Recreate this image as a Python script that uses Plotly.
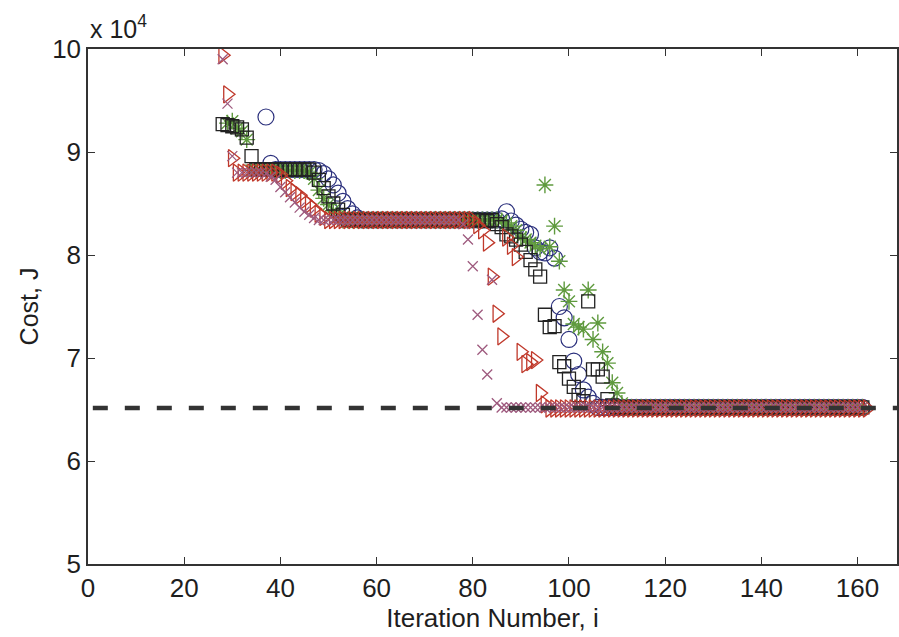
import plotly.graph_objects as go

# ---------------- data (cost J per iteration) ----------------
circle_start = 37
circle_cost = [
    93400, 88900,
    88300, 88300, 88300, 88300, 88300, 88300, 88300, 88300, 88300,
    88200, 87900, 87400, 86800, 86000, 85200, 84500, 84000, 83600,
    83400, 83400, 83400, 83400, 83400, 83400, 83400, 83400, 83400, 83400,
    83400, 83400, 83400, 83400, 83400, 83400, 83400, 83400, 83400, 83400,
    83400, 83400, 83400, 83400, 83400, 83400, 83400, 83400, 83400,
    83500, 84200, 83300, 82900, 82500, 82200, 82000, 80700, 80300, 80200,
    80700, 79700, 75000, 73900, 71800, 69700, 68400, 66900, 66200, 65600,
    65200, 65200, 65200, 65200, 65200, 65200, 65200, 65200, 65200, 65200,
    65200, 65200, 65200, 65200, 65200, 65200, 65200, 65200, 65200, 65200,
    65200, 65200, 65200, 65200, 65200, 65200, 65200, 65200, 65200, 65200,
    65200, 65200, 65200, 65200, 65200, 65200, 65200, 65200, 65200, 65200,
    65200, 65200, 65200, 65200, 65200, 65200, 65200, 65200, 65200, 65200,
    65200, 65200, 65200, 65200, 65200, 65200,
]

asterisk_start = 29
asterisk_cost = [
    92800, 93000, 92300, 92000, 91200,
    88200, 88200, 88200, 88200, 88200, 88200, 88200, 88200, 88200, 88200,
    88200, 88200,
    88000, 87400, 86300, 85500, 84900, 84300, 83800,
    83400, 83400, 83400, 83400, 83400, 83400, 83400, 83400, 83400, 83400,
    83400, 83400, 83400, 83400, 83400, 83400, 83400, 83400, 83400, 83400,
    83400, 83400, 83400, 83400, 83400, 83400, 83400, 83400, 83400, 83400,
    83400, 83400, 83400,
    83300, 83100, 82800, 82400, 81700, 81500, 81200, 80900, 80600, 86800,
    80800, 82800, 79400, 76600, 75500, 73300, 73000, 72800, 76600, 71800,
    73400, 70600, 69500, 67600, 66600, 65600,
    65200, 65200, 65200, 65200, 65200, 65200, 65200, 65200, 65200, 65200,
    65200, 65200, 65200, 65200, 65200, 65200, 65200, 65200, 65200, 65200,
    65200, 65200, 65200, 65200, 65200, 65200, 65200, 65200, 65200, 65200,
    65200, 65200, 65200, 65200, 65200, 65200, 65200, 65200, 65200, 65200,
    65200, 65200, 65200, 65200, 65200, 65200, 65200, 65200, 65200, 65200,
]

square_start = 28
square_cost = [
    92700, 92600, 92500, 92400, 92200, 91400, 89600,
    88300, 88300, 88300, 88300, 88300, 88300, 88300, 88300, 88300, 88300,
    88300, 88300,
    88000, 87300, 86500, 85700, 85000, 84400, 83900,
    83400, 83400, 83400, 83400, 83400, 83400, 83400, 83400, 83400, 83400,
    83400, 83400, 83400, 83400, 83400, 83400, 83400, 83400, 83400, 83400,
    83400, 83400, 83400, 83400, 83400, 83400, 83400, 83400, 83400,
    83300, 83400, 83000, 82700, 82000, 81800, 81500, 81000, 80300, 79500,
    78600, 77900, 74200, 73000, 73100, 69600, 69200, 68000, 67200, 66400,
    65800, 75500, 68900, 68900, 68200, 66000, 65400,
    65200, 65200, 65200, 65200, 65200, 65200, 65200, 65200, 65200, 65200,
    65200, 65200, 65200, 65200, 65200, 65200, 65200, 65200, 65200, 65200,
    65200, 65200, 65200, 65200, 65200, 65200, 65200, 65200, 65200, 65200,
    65200, 65200, 65200, 65200, 65200, 65200, 65200, 65200, 65200, 65200,
    65200, 65200, 65200, 65200, 65200, 65200, 65200, 65200, 65200, 65200,
    65200, 65200,
]

triangle_start = 28
triangle_cost = [
    99400, 95600, 89400,
    88000, 88000, 88000, 88000, 88000, 88000, 88000, 88000, 88000,
    87800, 87200, 86500, 86100, 85800, 85300, 84900, 84500, 84000, 83700,
    83400, 83400, 83400, 83400, 83400, 83400, 83400, 83400, 83400, 83400,
    83400, 83400, 83400, 83400, 83400, 83400, 83400, 83400, 83400, 83400,
    83400, 83400, 83400, 83400, 83400, 83400, 83400, 83400, 83400, 83400,
    83400,
    82900, 82400, 81200, 77900, 74300, 72100, 81700, 80900, 79800, 70600,
    69400, 69600, 69800, 66600, 65500,
    65100, 65100, 65100, 65100, 65100, 65100, 65100, 65100, 65100, 65100,
    65100, 65100, 65100, 65100, 65100, 65100, 65100, 65100, 65100, 65100,
    65100, 65100, 65100, 65100, 65100, 65100, 65100, 65100, 65100, 65100,
    65100, 65100, 65100, 65100, 65100, 65100, 65100, 65100, 65100, 65100,
    65100, 65100, 65100, 65100, 65100, 65100, 65100, 65100, 65100, 65100,
    65100, 65100, 65100, 65100, 65100, 65100, 65100, 65100, 65100, 65100,
    65100, 65100, 65100, 65100, 65100, 65100, 65100,
]

cross_start = 28
cross_cost = [
    99000, 94700, 89600,
    88000, 88000, 88000, 88000, 88000, 88000,
    87900, 87600, 87300, 86600, 86100, 85600, 85100, 84600, 84200, 83900,
    83600,
    83400, 83400, 83400, 83400, 83400, 83400, 83400, 83400, 83400, 83400,
    83400, 83400, 83400, 83400, 83400, 83400, 83400, 83400, 83400, 83400,
    83400, 83400, 83400, 83400, 83400, 83400, 83400, 83400, 83400, 83400,
    83000, 81500, 78900, 74200, 70800, 68400, 77600, 65600,
    65200, 65200, 65200, 65200, 65200, 65200, 65200, 65200, 65200, 65200,
    65200, 65200, 65200, 65200, 65200, 65200, 65200, 65200, 65200, 65200,
    65200, 65200, 65200, 65200, 65200, 65200, 65200, 65200, 65200, 65200,
    65200, 65200, 65200, 65200, 65200, 65200, 65200, 65200, 65200, 65200,
    65200, 65200, 65200, 65200, 65200, 65200, 65200, 65200, 65200, 65200,
    65200, 65200, 65200, 65200, 65200, 65200, 65200, 65200, 65200, 65200,
    65200, 65200, 65200, 65200, 65200, 65200, 65200, 65200, 65200, 65200,
    65200, 65200, 65200, 65200, 65200, 65200,
]

optimum_x = [1, 170]
optimum_cost = [65150, 65150]

x_ticks = [0, 20, 40, 60, 80, 100, 120, 140, 160]
y_ticks = [50000, 60000, 70000, 80000, 90000, 100000]
y_ticklabels = ["5", "6", "7", "8", "9", "10"]


def iters(start, values):
    return [start + k for k in range(len(values))]


FONT = "Liberation Sans, Arial, sans-serif"
TXT = "#1e1e1e"

fig = go.Figure()

fig.add_trace(go.Scatter(
    x=iters(circle_start, circle_cost), y=circle_cost, mode="markers",
    marker=dict(symbol="circle-open", size=16, color="#2a2f7c",
                line=dict(width=1.2, color="#2a2f7c")),
    showlegend=False))
fig.add_trace(go.Scatter(
    x=iters(asterisk_start, asterisk_cost), y=asterisk_cost, mode="markers",
    marker=dict(symbol="asterisk-open", size=14, color="#5f9a3e",
                line=dict(width=1.4, color="#5f9a3e")),
    showlegend=False))
fig.add_trace(go.Scatter(
    x=iters(square_start, square_cost), y=square_cost, mode="markers",
    marker=dict(symbol="square-open", size=13, color="#222222",
                line=dict(width=1.3, color="#222222")),
    showlegend=False))
fig.add_trace(go.Scatter(
    x=iters(triangle_start, triangle_cost), y=triangle_cost, mode="markers",
    marker=dict(symbol="triangle-right-open", size=15, color="#c0392b",
                line=dict(width=1.3, color="#c0392b")),
    showlegend=False))
fig.add_trace(go.Scatter(
    x=iters(cross_start, cross_cost), y=cross_cost, mode="markers",
    marker=dict(symbol="x-thin-open", size=10, color="#9e5a7e",
                line=dict(width=1.3, color="#9e5a7e")),
    showlegend=False))
fig.add_trace(go.Scatter(
    x=optimum_x, y=optimum_cost, mode="lines",
    line=dict(color="#333333", width=4.5, dash="15px,17px"),
    showlegend=False))

axis_common = dict(
    showline=True, linecolor="#333333", linewidth=1.5, mirror="ticks",
    ticks="inside", ticklen=7, tickwidth=1.2, tickcolor="#333333",
    showgrid=False, zeroline=False, automargin=False,
    tickfont=dict(family=FONT, size=26, color=TXT),
)

fig.update_layout(
    width=899, height=637,
    margin=dict(l=88, r=2, t=49, b=73),
    paper_bgcolor="white", plot_bgcolor="white",
    xaxis=dict(range=[0, 168.2], tickvals=x_ticks,
               title=dict(text="Iteration Number, i",
                          font=dict(family=FONT, size=26, color=TXT),
                          standoff=0),
               **axis_common),
    yaxis=dict(range=[50000, 100000], tickvals=y_ticks, ticktext=y_ticklabels,
               title=dict(text="Cost, J",
                          font=dict(family=FONT, size=25, color=TXT),
                          standoff=6),
               **axis_common),
    annotations=[dict(text="x 10<sup>4</sup>", xref="paper", yref="paper",
                      x=0, y=1, xanchor="left", yanchor="bottom", yshift=4,
                      showarrow=False,
                      font=dict(family=FONT, size=25, color=TXT))],
)

# remove the browser's default 8 px page margin so the figure fills the window
fig.write_html(
    "out.html",
    config={"displayModeBar": False},
    post_script="document.body.style.margin='0';"
                "document.body.style.overflow='hidden';",
)
